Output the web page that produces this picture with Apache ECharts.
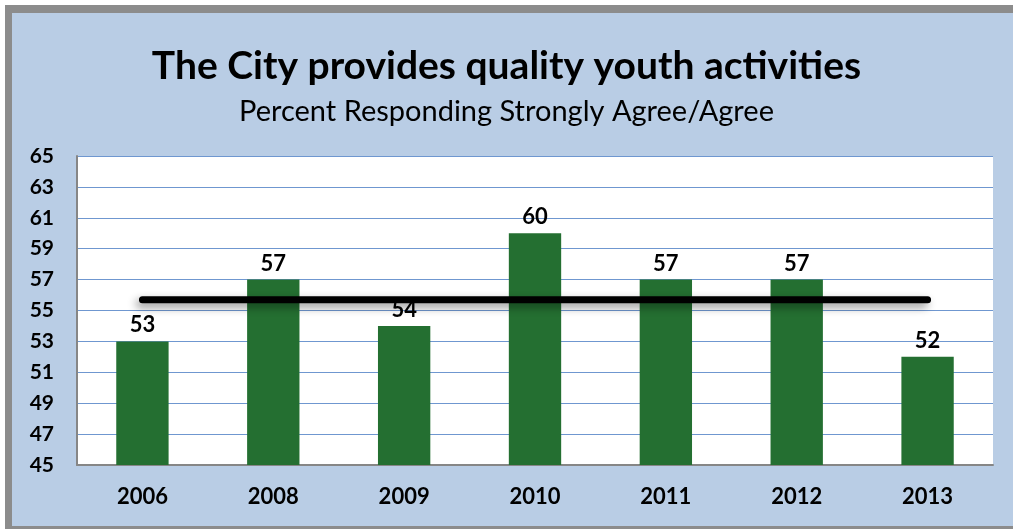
<!DOCTYPE html>
<html>
<head>
<meta charset="utf-8">
<script src="https://cdn.jsdelivr.net/npm/echarts@6/dist/echarts.min.js"></script>
<style>
  html, body { margin: 0; padding: 0; background: #ffffff; }
  #chart { width: 1013px; height: 529px; }
</style>
</head>
<body>
<div id="chart"></div>
<script>
// Survey years and share of respondents who strongly agree/agree
const years = ['2006', '2008', '2009', '2010', '2011', '2012', '2013'];
const percentAgree = [53, 57, 54, 60, 57, 57, 52];
// Average across the years, drawn as a horizontal reference line
const averageLine = [55.7, 55.7, 55.7, 55.7, 55.7, 55.7, 55.7];
const yTicks = { min: 45, max: 65, step: 2 };

const titleText = 'The City provides quality youth activities';
const subtitleText = 'Percent Responding Strongly Agree/Agree';

const FONT = 'Lato, "Open Sans", sans-serif';

const chart = echarts.init(document.getElementById('chart'), null, { renderer: 'canvas' });

chart.setOption({
  backgroundColor: '#ffffff',
  animation: false,
  textStyle: { fontFamily: FONT },
  graphic: [
    { type: 'rect', z: -10, shape: { x: 5, y: 5, width: 1008, height: 524 }, style: { fill: '#8c8c8c' } },
    { type: 'rect', z: -9, shape: { x: 12, y: 13, width: 1001, height: 513 }, style: { fill: '#b9cde5' } }
  ],
  title: [
    {
      text: titleText,
      left: 'center',
      top: 42,
      textStyle: { fontFamily: FONT, fontSize: 39, fontWeight: 'bold', color: '#000000' }
    },
    {
      text: subtitleText,
      left: 'center',
      top: 92,
      textStyle: { fontFamily: FONT, fontSize: 29, fontWeight: 'normal', color: '#000000' }
    }
  ],
  grid: { left: 77, right: 20, top: 156, bottom: 64, backgroundColor: '#ffffff', show: true, borderWidth: 0 },
  xAxis: {
    type: 'category',
    data: years,
    boundaryGap: true,
    axisLine: { show: true, lineStyle: { color: '#868686', width: 2 } },
    axisTick: { show: false },
    axisLabel: { margin: 21, fontFamily: FONT, fontSize: 22, fontWeight: 'bold', color: '#000000' }
  },
  yAxis: {
    type: 'value',
    min: yTicks.min,
    max: yTicks.max,
    interval: yTicks.step,
    axisLine: { show: true, lineStyle: { color: '#868686', width: 2 } },
    axisTick: { show: false },
    splitLine: { lineStyle: { color: '#6f97d0', width: 1 } },
    axisLabel: { margin: 23, fontFamily: FONT, fontSize: 21, fontWeight: 'bold', color: '#000000' }
  },
  series: [
    {
      type: 'bar',
      data: percentAgree,
      barWidth: '40%',
      itemStyle: { color: '#246f31' },
      label: {
        show: true,
        position: 'top',
        distance: 5,
        fontFamily: FONT,
        fontSize: 22,
        fontWeight: 'bold',
        color: '#000000'
      },
      z: 2
    },
    {
      type: 'line',
      data: averageLine,
      symbol: 'none',
      silent: true,
      lineStyle: {
        color: '#000000',
        width: 7,
        cap: 'round',
        shadowColor: 'rgba(0,0,0,0.45)',
        shadowBlur: 8,
        shadowOffsetX: -3,
        shadowOffsetY: 4
      },
      z: 5
    }
  ]
});
</script>
</body>
</html>
